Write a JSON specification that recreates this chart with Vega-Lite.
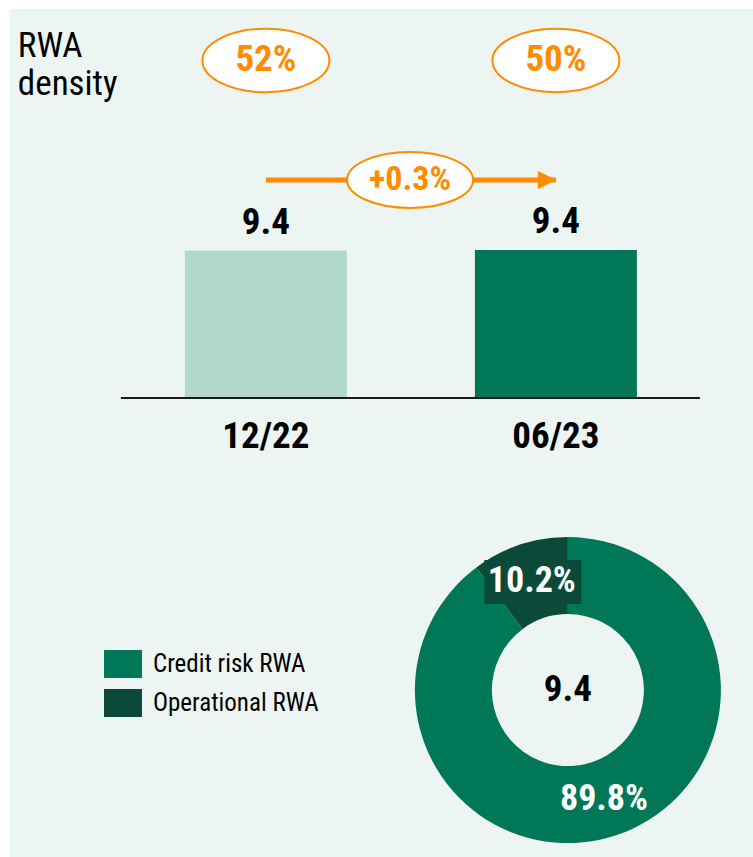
{
  "$schema": "https://vega.github.io/schema/vega-lite/v6.json",
  "autosize": {"type": "fit", "contains": "padding"},
  "width": 753,
  "height": 857,
  "padding": {"left": 10, "top": 9, "right": 0, "bottom": 0},
  "background": "white",
  "config": {
    "view": {"fill": "#EDF5F2", "stroke": null},
    "font": "Roboto Condensed, DejaVu Sans Condensed, Liberation Sans Narrow, Arial Narrow, Liberation Sans, sans-serif"
  },
  "datasets": {
    "rwa": [
      {"period": "12/22", "rwa": 9.37, "label": "9.4", "density": "52%"},
      {"period": "06/23", "rwa": 9.40, "label": "9.4", "density": "50%"}
    ],
    "change": [{"from": "12/22", "to": "06/23", "change": "+0.3%"}],
    "mix": [
      {"category": "Credit risk RWA", "share": 89.8, "label": "89.8%"},
      {"category": "Operational RWA", "share": 10.2, "label": "10.2%"}
    ],
    "heading": [{"text": "RWA density"}]
  },
  "resolve": {"scale": {"color": "independent"}},
  "layer": [
    {
      "data": {"name": "rwa"},
      "mark": {"type": "bar"},
      "encoding": {
        "x": {"field": "period", "type": "nominal", "axis": null,
              "scale": {"domain": ["12/22", "06/23"], "paddingInner": 0.4414, "paddingOuter": 0.5017, "align": 0.601}},
        "y": {"field": "rwa", "type": "quantitative", "axis": null,
              "scale": {"domain": [-29.15, 24.71], "nice": false, "zero": false}},
        "y2": {"datum": 0},
        "color": {"field": "period", "type": "nominal", "legend": null,
                  "scale": {"domain": ["12/22", "06/23"], "range": ["#B2D8CE", "#007858"]}}
      }
    },
    {
      "data": {"name": "change"},
      "mark": {"type": "rule", "color": "#1a1a1a", "strokeWidth": 2},
      "encoding": {
        "x": {"datum": "12/22", "bandPosition": -0.395},
        "x2": {"datum": "06/23", "bandPosition": 1.389},
        "y": {"datum": 0}
      }
    },
    {
      "data": {"name": "change"},
      "mark": {"type": "rule", "color": "#FF8C00", "strokeWidth": 5},
      "encoding": {
        "x": {"field": "from", "type": "nominal"},
        "x2": {"field": "to"},
        "y": {"datum": 13.85}
      }
    },
    {
      "data": {"name": "change"},
      "mark": {"type": "point", "shape": "M-1,-0.95L1,0L-1,0.95Z", "size": 361, "filled": true, "color": "#FF8C00", "opacity": 1},
      "encoding": {
        "x": {"datum": "06/23", "bandPosition": 0.4475},
        "y": {"datum": 13.85}
      }
    },
    {
      "data": {"name": "change"},
      "mark": {"type": "point", "shape": "M-1,0C-1,-0.2452,-0.5523,-0.444,0,-0.444C0.5523,-0.444,1,-0.2452,1,0C1,0.2452,0.5523,0.444,0,0.444C-0.5523,0.444,-1,0.2452,-1,0Z",
               "size": 15876, "fill": "white", "stroke": "#FF8C00", "strokeWidth": 2, "opacity": 1, "fillOpacity": 1},
      "encoding": {
        "x": {"datum": "06/23", "bandPosition": -0.40},
        "y": {"datum": 13.85}
      }
    },
    {
      "data": {"name": "change"},
      "mark": {"type": "text", "fontSize": 34, "fontWeight": "bold", "color": "#FF8C00", "baseline": "middle"},
      "encoding": {
        "x": {"datum": "06/23", "bandPosition": -0.40},
        "y": {"datum": 13.85},
        "text": {"field": "change"}
      }
    },
    {
      "data": {"name": "rwa"},
      "mark": {"type": "point", "shape": "M-1,0C-1,-0.2761,-0.5523,-0.5,0,-0.5C0.5523,-0.5,1,-0.2761,1,0C1,0.2761,0.5523,0.5,0,0.5C-0.5523,0.5,-1,0.2761,-1,0Z",
               "size": 16129, "fill": "white", "stroke": "#FF8C00", "strokeWidth": 2, "opacity": 1, "fillOpacity": 1},
      "encoding": {
        "x": {"field": "period", "type": "nominal"},
        "y": {"datum": 21.44}
      }
    },
    {
      "data": {"name": "rwa"},
      "mark": {"type": "text", "fontSize": 37, "fontWeight": "bold", "color": "#FF8C00", "baseline": "middle"},
      "encoding": {
        "x": {"field": "period", "type": "nominal"},
        "y": {"datum": 21.44},
        "text": {"field": "density"}
      }
    },
    {
      "data": {"name": "rwa"},
      "mark": {"type": "text", "fontSize": 37, "fontWeight": "bold", "color": "black", "baseline": "middle", "dy": -28},
      "encoding": {
        "x": {"field": "period", "type": "nominal"},
        "y": {"field": "rwa", "type": "quantitative"},
        "text": {"field": "label"}
      }
    },
    {
      "data": {"name": "rwa"},
      "mark": {"type": "text", "fontSize": 37, "fontWeight": "bold", "color": "black", "baseline": "middle"},
      "encoding": {
        "x": {"field": "period", "type": "nominal"},
        "y": {"datum": -2.48},
        "text": {"field": "period"}
      }
    },
    {
      "data": {"name": "heading"},
      "mark": {"type": "text", "fontSize": 35, "color": "black", "align": "left", "baseline": "alphabetic", "lineBreak": " ", "lineHeight": 38},
      "encoding": {
        "x": {"datum": "12/22", "bandPosition": -1.031},
        "y": {"datum": 21.66},
        "text": {"field": "text"}
      }
    },
    {
      "data": {"name": "mix"},
      "mark": {"type": "arc", "radius": 153, "radius2": 76},
      "encoding": {
        "theta": {"field": "share", "type": "quantitative", "stack": true},
        "order": {"field": "category", "sort": "ascending"},
        "color": {"field": "category", "type": "nominal",
                  "scale": {"domain": ["Credit risk RWA", "Operational RWA"], "range": ["#007858", "#0B4A39"]},
                  "legend": {"orient": "none", "legendX": 94, "legendY": 636, "title": null,
                             "symbolType": "M-1,-0.737H1V0.737H-1Z", "symbolSize": 1444, "symbolStrokeWidth": 0, "symbolOpacity": 1,
                             "labelFontSize": 25, "labelColor": "black", "labelOffset": 11, "labelLimit": 400, "rowPadding": 5, "padding": 0}},
        "x": {"datum": "06/23", "bandPosition": 0.574},
        "y": {"datum": -18.55}
      }
    },
    {
      "data": {"name": "mix"},
      "transform": [{"filter": "datum.category === 'Operational RWA'"}],
      "mark": {"type": "point", "shape": "M-1,-0.454H1V0.454H-1Z", "size": 9409, "filled": true, "color": "#0B4A39", "opacity": 1},
      "encoding": {
        "x": {"datum": "06/23", "bandPosition": 0.358},
        "y": {"datum": -11.69}
      }
    },
    {
      "data": {"name": "mix"},
      "mark": {"type": "text", "radius": 114.5, "fontSize": 36, "fontWeight": "bold", "color": "white", "baseline": "middle"},
      "encoding": {
        "theta": {"field": "share", "type": "quantitative", "stack": true},
        "order": {"field": "category", "sort": "ascending"},
        "detail": {"field": "category"},
        "text": {"field": "label"},
        "x": {"datum": "06/23", "bandPosition": 0.574},
        "y": {"datum": -18.55}
      }
    },
    {
      "data": {"name": "rwa"},
      "transform": [{"filter": "datum.period === '06/23'"}],
      "mark": {"type": "text", "fontSize": 37, "fontWeight": "bold", "color": "black", "baseline": "middle"},
      "encoding": {
        "x": {"datum": "06/23", "bandPosition": 0.574},
        "y": {"datum": -18.55},
        "text": {"field": "label"}
      }
    }
  ]
}
